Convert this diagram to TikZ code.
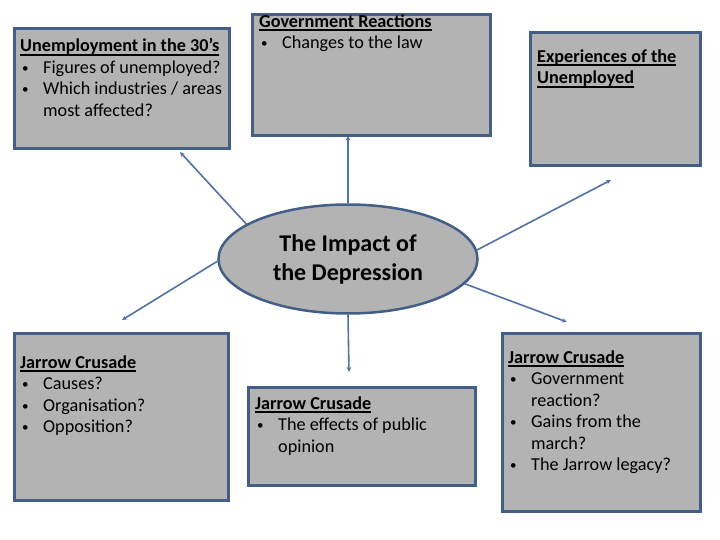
\documentclass[tikz,border=0pt]{standalone}
\usepackage{fontspec}
\setmainfont{Carlito}
\usetikzlibrary{shapes.geometric,arrows.meta}
\definecolor{boxline}{HTML}{435F87}
\definecolor{boxfill}{HTML}{B3B3B3}
\definecolor{connc}{HTML}{5073A3}
\newcommand{\bul}{\raisebox{1pt}{\fontsize{13}{13}\selectfont\textbullet}}
\newcommand{\bitem}[1]{\makebox[23pt][l]{\hspace*{2pt}\bul}#1}
\newcommand{\bcont}[1]{\hspace*{23pt}#1}
\newcommand{\ttl}[1]{\textbf{\setbox0\hbox{#1}\rlap{\vrule width\wd0 height -2pt depth 3.6pt}\box0}}
\begin{document}
\begin{tikzpicture}[x=1pt,y=-1pt,
 box/.style={draw=boxline, line width=3pt, fill=boxfill, inner sep=0pt, outer sep=0pt},
 txt/.style={anchor=north west, align=left, inner sep=0pt, font=\fontsize{18.2}{21.5}\selectfont},
 conn/.style={draw=connc, line width=1.6pt, -{Stealth[length=5pt,width=4.5pt]}}]
\useasboundingbox (0,0) rectangle (720,540);
\fill[white] (0,0) rectangle (720,540);
% boxes
\node[box, minimum width=215pt, minimum height=120pt] (b1) at (122,88.5) {};
\node[box, minimum width=238pt, minimum height=121pt] (b2) at (371.5,75) {};
\node[box, minimum width=170pt, minimum height=133pt] (b3) at (615.5,99) {};
\node[box, minimum width=214pt, minimum height=167pt] (b4) at (121.5,417) {};
\node[box, minimum width=227pt, minimum height=98pt] (b5) at (362,436.5) {};
\node[box, minimum width=198pt, minimum height=178pt] (b6) at (601.5,422.5) {};
\node[ellipse, draw=boxline, line width=2.5pt, fill=boxfill, minimum width=259pt, minimum height=109pt, inner sep=0pt, align=center, font=\bfseries\fontsize{24}{29}\selectfont] (ell) at (348,259) {The Impact of\\the Depression};
% texts
\node[txt] (t1) at (20,38.5) {\ttl{Unemployment in the 30’s}\\\bitem{Figures of unemployed?}\\\bitem{Which industries / areas}\\\bcont{most affected?}};
\node[txt] (t2) at (259,14.5) {\ttl{Government Reactions}\\\bitem{Changes to the law}};
\node[txt] (t3) at (537,49.5) {\ttl{Experiences of the}\\\ttl{Unemployed}};
\node[txt] (t4) at (20,355.5) {\ttl{Jarrow Crusade}\\\bitem{Causes?}\\\bitem{Organisation?}\\\bitem{Opposition?}};
\node[txt] (t5) at (255,396.5) {\ttl{Jarrow Crusade}\\\bitem{The effects of public}\\\bcont{opinion}};
\node[txt] (t6) at (508,350.5) {\ttl{Jarrow Crusade}\\\bitem{Government}\\\bcont{reaction?}\\\bitem{Gains from the}\\\bcont{march?}\\\bitem{The Jarrow legacy?}};
% connector ends
\coordinate (e1) at (180,152);
\coordinate (e3) at (611,180);
\coordinate (e4) at (122,320);
\coordinate (e5) at (349,372);
\coordinate (e6) at (567,322);
\draw[conn] (ell.161) -- (e1);
\draw[conn] (ell.north) -- (ell.north |- b2.south);
\draw[conn] (ell.4) -- (e3);
\draw[conn] (ell.181) -- (e4);
\draw[conn] (ell.south) -- (e5);
\draw[conn] (ell.-12) -- (e6);
\end{tikzpicture}
\end{document}
